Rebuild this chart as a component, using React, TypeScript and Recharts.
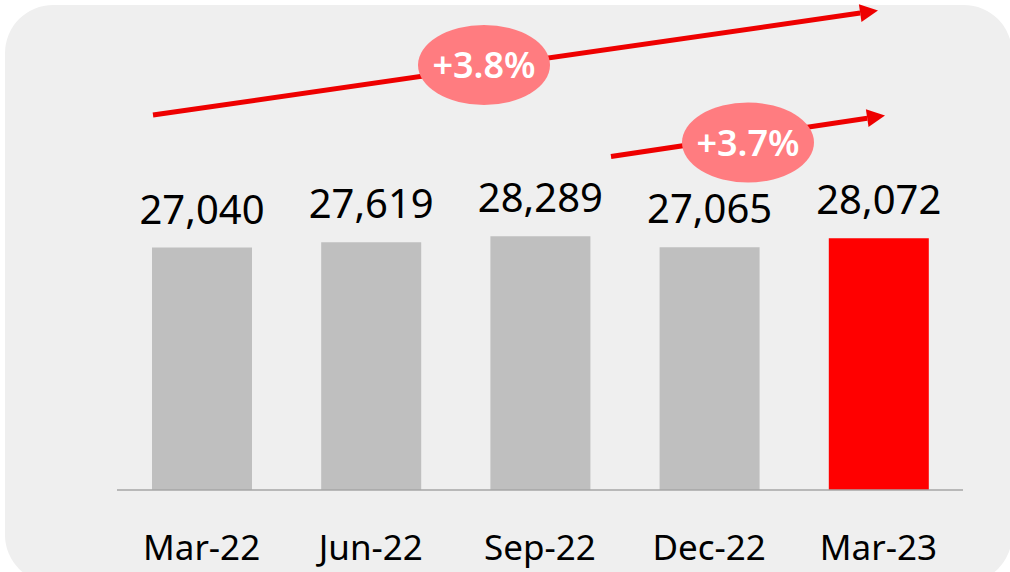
import { Bar, BarChart, Cell, LabelList, XAxis, YAxis } from 'recharts'

const quarters = ['Mar-22', 'Jun-22', 'Sep-22', 'Dec-22', 'Mar-23']
const values = [27040, 27619, 28289, 27065, 28072]
const growthLabels = ['+3.8%', '+3.7%']

const GREY = '#bfbfbf'
const RED = '#ff0000'
const FONT = '"Noto Sans", "Open Sans", sans-serif'

const data = quarters.map((q, i) => ({ quarter: q, value: values[i] }))

function head(x1: number, y1: number, x2: number, y2: number, len: number, half: number) {
  const a = Math.atan2(y2 - y1, x2 - x1)
  const bx = x2 - len * Math.cos(a)
  const by = y2 - len * Math.sin(a)
  const px = -Math.sin(a) * half
  const py = Math.cos(a) * half
  return { bx, by, pts: `${x2},${y2} ${bx + px},${by + py} ${bx - px},${by - py}` }
}

function Arrow({ x1, y1, x2, y2 }: { x1: number; y1: number; x2: number; y2: number }) {
  const h = head(x1, y1, x2, y2, 18, 9)
  return (
    <g>
      <line x1={x1} y1={y1} x2={h.bx} y2={h.by} stroke="#ee0000" strokeWidth={5} />
      <polygon points={h.pts} fill="#ee0000" />
    </g>
  )
}

function Bubble({ cx, cy, text }: { cx: number; cy: number; text: string }) {
  return (
    <g>
      <ellipse cx={cx} cy={cy} rx={66} ry={40} fill="#ff7c80" />
      <text x={cx} y={cy + 13} textAnchor="middle" fill="#fff" fontSize={36} fontWeight={600} fontFamily={FONT}>
        {text}
      </text>
    </g>
  )
}

function QuarterTick({ x, y, payload }: { x?: number; y?: number; payload?: { value: string } }) {
  return (
    <text x={x} y={(y ?? 0) + 70} textAnchor="middle" fill="#000" fontSize={35} fontFamily={FONT}>
      {payload?.value}
    </text>
  )
}

export default function App() {
  return (
    <div style={{ position: 'absolute', left: 0, top: 0, width: 1010, height: 572, background: '#fff', overflow: 'hidden' }}>
      <div
        style={{
          position: 'absolute',
          left: 5,
          top: 5,
          width: 1007,
          height: 578,
          borderRadius: 48,
          background: '#efefef',
        }}
      />
      <div style={{ position: 'absolute', left: 0, top: 0 }}>
        <BarChart width={1010} height={572} data={data} margin={{ top: 221, right: 47, bottom: 0, left: 117 }} barSize={100}>
          <XAxis
            dataKey="quarter"
            height={82}
            axisLine={{ stroke: '#a6a6a6', strokeWidth: 1.5 }}
            tickLine={false}
            tickSize={0}
            tickMargin={0}
            tick={<QuarterTick />}
            interval={0}
          />
          <YAxis hide domain={[0, 30000]} />
          <Bar dataKey="value" isAnimationActive={false}>
            {data.map((d, i) => (
              <Cell key={d.quarter} fill={i === data.length - 1 ? RED : GREY} />
            ))}
            <LabelList
              dataKey="value"
              position="top"
              offset={24}
              fill="#000"
              fontSize={40}
              fontFamily={FONT}
              formatter={(v: unknown) => Number(v).toLocaleString('en-US')}
            />
          </Bar>
        </BarChart>
      </div>
      <svg width={1010} height={572} style={{ position: 'absolute', left: 0, top: 0, pointerEvents: 'none' }}>
        <Arrow x1={153} y1={115} x2={878} y2={10.5} />
        <Arrow x1={611} y1={156.5} x2={885} y2={115.5} />
        <Bubble cx={484} cy={65} text={growthLabels[0]} />
        <Bubble cx={748} cy={142.5} text={growthLabels[1]} />
      </svg>
    </div>
  )
}
